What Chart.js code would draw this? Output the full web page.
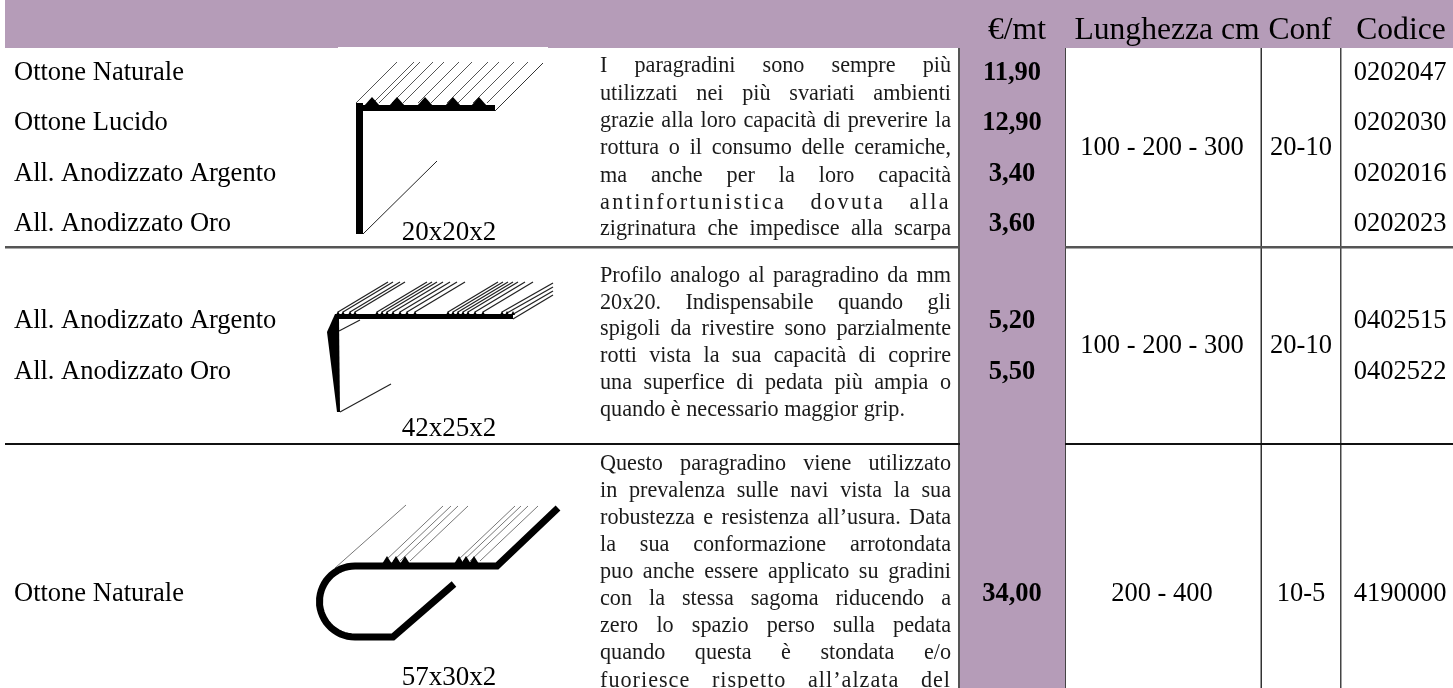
<!DOCTYPE html>
<html lang="it">
<head>
<meta charset="utf-8">
<title>Paragradini</title>
<script src="https://cdn.jsdelivr.net/npm/chart.js@4"></script>
<style>
    html, body { margin: 0; padding: 0; background: #fff; overflow: hidden; }
    canvas { display: block; }
</style>
</head>
<body>
<canvas id="chart" width="1453" height="688"></canvas>
<script>
// Table content
const headers = ['€/mt', 'Lunghezza cm', 'Conf', 'Codice'];
const finishes = [
    ['Ottone Naturale', 'Ottone Lucido', 'All. Anodizzato Argento', 'All. Anodizzato Oro'],
    ['All. Anodizzato Argento', 'All. Anodizzato Oro'],
    ['Ottone Naturale']
];
const prices = [
    ['11,90', '12,90', '3,40', '3,60'],
    ['5,20', '5,50'],
    ['34,00']
];
const codes = [
    ['0202047', '0202030', '0202016', '0202023'],
    ['0402515', '0402522'],
    ['4190000']
];
const lengths = ['100 - 200 - 300', '100 - 200 - 300', '200 - 400'];
const packs = ['20-10', '20-10', '10-5'];
const sizes = ['20x20x2', '42x25x2', '57x30x2'];
const descriptions = [
    ['I paragradini sono sempre più', 'utilizzati nei più svariati ambienti', 'grazie alla loro capacità di preverire la',
     'rottura o il consumo delle ceramiche,', 'ma anche per la loro capacità', 'antinfortunistica dovuta alla',
     'zigrinatura che impedisce alla scarpa'],
    ['Profilo analogo al paragradino da mm', '20x20. Indispensabile quando gli', 'spigoli da rivestire sono parzialmente',
     'rotti vista la sua capacità di coprire', 'una superfice di pedata più ampia o', 'quando è necessario maggior grip.'],
    ['Questo paragradino viene utilizzato', 'in prevalenza sulle navi vista la sua', 'robustezza e resistenza all’usura. Data',
     'la sua conformazione arrotondata', 'puo anche essere applicato su gradini', 'con la stessa sagoma riducendo a',
     'zero lo spazio perso sulla pedata', 'quando questa è stondata e/o', 'fuoriesce rispetto all’alzata del']
];

// Layout, in page units of the hidden x and y scales
const BAND = '#b59cb8';
const SERIF = '"Liberation Serif", serif';
const rowCentres = [[73, 123, 174, 224], [321, 372], [594]];
const rowMiddles = [148, 346, 594];
const sizeY = [233, 429, 678];
const descY = [
    [66, 94, 121, 148, 176, 203, 229],
    [276, 303, 329, 356, 383, 410],
    [464, 491, 518, 545, 572, 599, 626, 653, 681]
];
const spacedLines = { 'antinfortunistica dovuta alla': '2.4px', 'fuoriesce rispetto all’alzata del': '1px' };
const lastLines = ['quando è necessario maggior grip.'];

// Dataset helpers. Chart.js paints dataset 0 last, so earlier entries sit on top.
function poly(points, fill) {
    return {
        type: 'scatter',
        data: points.map(p => ({ x: p[0], y: p[1] })),
        showLine: true,
        pointRadius: 0,
        borderWidth: 0,
        backgroundColor: fill,
        borderColor: fill,
        fill: 'shape',
        tension: 0,
        clip: false
    };
}

function rect(x0, y0, x1, y1, fill) {
    return poly([[x0, y0], [x1, y0], [x1, y1], [x0, y1], [x0, y0]], fill);
}

function line(points, color, width) {
    return {
        type: 'scatter',
        data: points.map(p => ({ x: p[0], y: p[1] })),
        showLine: true,
        pointRadius: 0,
        borderWidth: width,
        borderColor: color,
        borderJoinStyle: 'miter',
        borderCapStyle: 'butt',
        fill: false,
        tension: 0,
        clip: false
    };
}

function teeth(centres, baseY, peakY, half) {
    return centres.map(c => poly([[c - half, baseY], [c, peakY], [c + half, baseY], [c - half, baseY]], '#000'));
}

function hatch(starts, startY, dx, dy, color, width) {
    return starts.map(s => line([[s, startY], [s + dx, startY + dy]], color, width));
}

// Page furniture
const frame = [
    rect(338, 47, 548, 49, '#fff'),
    rect(5, 0, 1453, 48, BAND),
    rect(960, 48, 1065, 688, BAND),
    rect(5, 246, 1453, 248.5, '#555'),
    rect(5, 443, 1453, 445, '#111'),
    rect(958, 48, 960, 688, '#555'),
    rect(1064.5, 48, 1066, 688, '#444'),
    rect(1260.5, 48, 1262, 688, '#333'),
    rect(1340, 48, 1341.5, 688, '#444')
];

// Profile 20x20x2
const profileOne = [
    rect(356, 103, 363, 234, '#000'),
    rect(356, 105, 495, 111, '#000'),
    ...teeth([372, 397, 425, 453, 479], 106, 97, 8),
    ...hatch([356, 373, 379, 392, 403, 418, 431, 447, 458, 473, 487], 103, 41, -41, '#555', 1),
    line([[495, 111], [543, 63]], '#333', 1),
    line([[363, 234], [437, 161]], '#222', 1)
];

// Profile 42x25x2
const profileTwo = [
    poly([[335, 314], [327, 332], [337, 412], [340, 412], [339, 319], [335, 314]], '#000'),
    rect(335, 314, 513, 319, '#000'),
    ...teeth([338, 343, 350, 355, 377, 382, 387, 393, 400, 407, 415, 448, 453, 458, 463, 468, 475, 483, 502, 507, 513], 315, 311, 2),
    ...hatch([338, 343, 350, 355, 377, 382, 387, 393, 400, 407, 415, 448, 453, 458, 463, 468, 475, 483],
        312, 50, -30, '#222', 1.3),
    line([[502, 312], [553, 283]], '#222', 1.3),
    line([[507, 313], [553, 287]], '#222', 1.3),
    line([[510, 316], [553, 291]], '#222', 1.3),
    line([[513, 319], [553, 295]], '#222', 1.3),
    line([[339, 331], [360, 320]], '#222', 1.2),
    line([[340, 412], [391, 384]], '#222', 1.2)
];

// Profile 57x30x2
const arcPoints = [];
for (let deg = 270; deg >= 90; deg -= 6) {
    const rad = deg * Math.PI / 180;
    arcPoints.push([355 + 35.5 * Math.cos(rad), 601.5 + 35.5 * Math.sin(rad)]);
}
const profileThree = [
    line([[558, 508], [497, 566], ...arcPoints, [393, 637], [454, 584]], '#000', 7),
    ...teeth([387, 396, 405, 459, 466, 474], 564, 556, 5),
    ...hatch([335], 568, 71, -63, '#777', 1),
    ...hatch([385, 393, 400, 410, 457, 463, 470, 480], 561, 58, -55, '#777', 1)
];

// Text layer
function text(ctx, str, x, y, font, align, color) {
    ctx.font = font;
    ctx.textAlign = align;
    ctx.fillStyle = color || '#000';
    ctx.fillText(str, x, y);
}

function justified(ctx, str, left, right, y) {
    const words = str.split(' ');
    ctx.letterSpacing = spacedLines[str] || '0px';
    ctx.textAlign = 'left';
    const total = words.reduce((sum, w) => sum + ctx.measureText(w).width, 0);
    const natural = ctx.measureText(' ').width;
    const gap = lastLines.includes(str) ? natural : (right - left - total) / (words.length - 1);
    let x = left;
    words.forEach(w => {
        ctx.fillText(w, x, y);
        x += ctx.measureText(w).width + gap;
    });
    ctx.letterSpacing = '0px';
}

const tableText = {
    id: 'tableText',
    afterDatasetsDraw(c) {
        const ctx = c.ctx;
        const px = v => c.scales.x.getPixelForValue(v);
        const py = v => c.scales.y.getPixelForValue(v);
        ctx.save();
        ctx.textBaseline = 'middle';

        const headFont = `31.6px ${SERIF}`;
        [1017, 1167, 1300, 1401].forEach((x, i) => text(ctx, headers[i], px(x), py(31), headFont, 'center'));

        rowCentres.forEach((ys, r) => {
            ys.forEach((y, i) => {
                text(ctx, finishes[r][i], px(14), py(y), `26.5px ${SERIF}`, 'left');
                text(ctx, prices[r][i], px(1012), py(y), `bold 26.5px ${SERIF}`, 'center');
                text(ctx, codes[r][i], px(1400), py(y), `26.5px ${SERIF}`, 'center');
            });
            text(ctx, lengths[r], px(1162), py(rowMiddles[r]), `26.5px ${SERIF}`, 'center');
            text(ctx, packs[r], px(1301), py(rowMiddles[r]), `26.5px ${SERIF}`, 'center');
            text(ctx, sizes[r], px(449), py(sizeY[r]), `27px ${SERIF}`, 'center');

            ctx.font = `22.2px ${SERIF}`;
            ctx.fillStyle = '#1a1a1a';
            descriptions[r].forEach((str, i) => justified(ctx, str, px(600), px(951), py(descY[r][i])));
        });
        ctx.restore();
    }
};

function init() {
    const ctx = document.getElementById('chart').getContext('2d');
    new Chart(ctx, {
        type: 'scatter',
        data: { datasets: [...frame, ...profileOne, ...profileTwo, ...profileThree] },
        options: {
            responsive: false,
            animation: false,
            devicePixelRatio: 1,
            layout: { padding: 0 },
            plugins: { legend: { display: false }, tooltip: { enabled: false }, title: { display: false } },
            scales: {
                x: { type: 'linear', display: false, min: 0, max: 1453 },
                y: { type: 'linear', display: false, min: 0, max: 688, reverse: true }
            }
        },
        plugins: [tableText]
    });
}

init();
</script>
</body>
</html>
